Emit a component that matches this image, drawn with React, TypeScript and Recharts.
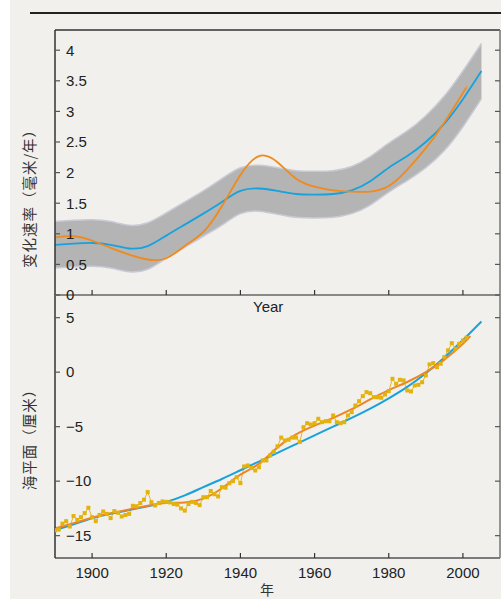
import React from 'react';
import { ComposedChart, Line, Area, XAxis, YAxis } from 'recharts';

const yearTicks = [1900, 1920, 1940, 1960, 1980, 2000];
const rateTicks = [0, 0.5, 1, 1.5, 2, 2.5, 3, 3.5, 4];
const levelTicks = [-15, -10, -5, 0, 5];

const rateYears = [1890, 1895, 1900, 1905, 1910, 1915, 1920, 1925, 1930, 1935, 1940, 1945, 1950, 1955, 1960, 1965, 1970, 1975, 1980, 1985, 1990, 1995, 2000, 2005];
const rateBlue = [0.82, 0.84, 0.85, 0.82, 0.76, 0.8, 0.97, 1.15, 1.33, 1.52, 1.7, 1.74, 1.7, 1.65, 1.64, 1.65, 1.71, 1.86, 2.08, 2.27, 2.5, 2.8, 3.2, 3.66];
const rateLow = [0.44, 0.46, 0.47, 0.44, 0.38, 0.42, 0.6, 0.78, 0.96, 1.14, 1.33, 1.37, 1.32, 1.27, 1.26, 1.27, 1.33, 1.47, 1.68, 1.87, 2.08, 2.36, 2.75, 3.21];
const rateHigh = [1.2, 1.22, 1.23, 1.2, 1.14, 1.18, 1.34, 1.52, 1.7, 1.9, 2.08, 2.12, 2.08, 2.03, 2.02, 2.03, 2.1, 2.26, 2.48, 2.68, 2.93, 3.25, 3.66, 4.11];

const orangeRateYears = [1890, 1895, 1900, 1905, 1910, 1915, 1920, 1925, 1930, 1935, 1940, 1945, 1950, 1955, 1960, 1965, 1970, 1975, 1980, 1985, 1990, 1995, 2000, 2001];
const orangeRate = [0.94, 0.96, 0.89, 0.77, 0.66, 0.58, 0.6, 0.8, 1.03, 1.45, 1.96, 2.27, 2.17, 1.9, 1.77, 1.71, 1.69, 1.69, 1.78, 2.05, 2.4, 2.82, 3.3, 3.4];

const levelBlueYears = [1890, 1895, 1900, 1905, 1910, 1915, 1920, 1925, 1930, 1935, 1940, 1945, 1950, 1955, 1960, 1965, 1970, 1975, 1980, 1985, 1990, 1995, 2000, 2005];
const levelBlue = [-14.5, -13.95, -13.4, -13.0, -12.65, -12.3, -11.9, -11.3, -10.55, -9.8, -9.0, -8.2, -7.4, -6.6, -5.8, -5.0, -4.2, -3.35, -2.4, -1.35, -0.1, 1.35, 2.95, 4.65];

const levelOrangeYears = [1890, 1895, 1900, 1905, 1910, 1915, 1920, 1925, 1930, 1935, 1940, 1945, 1950, 1955, 1960, 1965, 1970, 1975, 1980, 1985, 1990, 1995, 2000, 2002];
const levelOrange = [-14.35, -13.85, -13.35, -12.95, -12.6, -12.25, -12.0, -11.95, -11.6, -10.65, -9.4, -8.4, -6.9, -5.7, -4.9, -4.2, -3.4, -2.5, -1.65, -0.9, 0.0, 1.15, 2.6, 3.3];

const annualStart = 1890;
const annualLevel = [
  -14.5, -14.45, -13.9, -13.67, -14.16, -13.2, -13.55, -13.3, -12.93, -12.44,
  -13.3, -13.67, -13.1, -12.78, -13.0, -13.39, -12.75, -12.9, -13.24, -13.1,
  -13.0, -12.26, -12.3, -12.0, -11.7, -11.0, -11.93, -12.23, -12.0, -11.86,
  -11.9, -11.95, -12.1, -12.15, -12.5, -12.7, -12.1, -11.9, -12.0, -12.2,
  -11.47, -11.47, -10.9, -11.2, -11.4, -10.55, -10.6, -10.2, -10.0, -9.63,
  -10.18, -8.65, -8.56, -8.8, -9.02, -8.72, -8.1, -8.1, -7.64, -7.3,
  -6.8, -6.0, -6.27, -6.2, -6.0, -6.0, -6.4, -5.05, -4.68, -4.8,
  -4.68, -4.28, -4.59, -4.5, -4.5, -3.97, -4.59, -4.68, -4.59, -3.97,
  -3.67, -3.06, -2.66, -2.2, -1.83, -1.93, -2.29, -2.3, -2.35, -2.05,
  -1.74, -0.61, -1.07, -0.7, -0.76, -1.68, -1.77, -1.22, -1.16, -0.92,
  -0.3, 0.71, 0.83, 0.46, 0.77, 1.38, 2.0, 2.66, 2.15, 2.6,
  2.9, 3.16,
];

const FONT = '"Liberation Sans", Arial, Helvetica, sans-serif';
const CJK = '"Noto Sans CJK SC", "Noto Sans CJK JP", sans-serif';

const bandData = rateYears.map((year, i) => ({ year, band: [rateLow[i], rateHigh[i]], blue: rateBlue[i] }));
const orangeRateData = orangeRateYears.map((year, i) => ({ year, v: orangeRate[i] }));
const levelBlueData = levelBlueYears.map((year, i) => ({ year, v: levelBlue[i] }));
const levelOrangeData = levelOrangeYears.map((year, i) => ({ year, v: levelOrange[i] }));
const annualData = annualLevel.map((v, i) => ({ year: annualStart + i, v }));

const NoTick = () => <g />;

const BottomTick = (props: any) => {
  const { x, y, payload } = props;
  return (
    <g>
      <line x1={x} y1={y} x2={x} y2={y - 5} stroke="#333" strokeWidth={1.2} />
      <text x={x} y={y + 20} textAnchor="middle" fontSize={15} fill="#222" fontFamily={FONT}>
        {payload.value}
      </text>
    </g>
  );
};

const Square = (props: any) => {
  const { cx, cy, index } = props;
  if (cx == null || cy == null) return <g key={index} />;
  return <rect key={index} x={cx - 2} y={cy - 2} width={4} height={4} fill="#e3b20c" />;
};

const minusFmt = (v: number) => (v < 0 ? '\u2212' + Math.abs(v) : String(v));

const tickStyle = { fontSize: 15, fill: '#222', fontFamily: FONT };

export default function App() {
  return (
    <div style={{ position: 'absolute', left: 0, top: 0, width: 501, height: 599, background: '#ffffff', overflow: 'hidden' }}>
      <div style={{ position: 'absolute', left: 10, top: 0, width: 491, height: 599, background: '#f1f0ed' }} />
      <div style={{ position: 'absolute', left: 30, top: 12, width: 471, height: 1.5, background: '#222' }} />

      <div style={{ position: 'absolute', left: 0, top: 265 }}>
        <ComposedChart width={501} height={334} margin={{ top: 30, right: 1, bottom: 11, left: 55 }}>
          <XAxis xAxisId="t" type="number" domain={[1890, 2010]} allowDataOverflow ticks={yearTicks}
            orientation="top" mirror tick={NoTick} tickSize={5} interval={0}
            axisLine={{ stroke: '#888', strokeWidth: 2 }} tickLine={{ stroke: '#333', strokeWidth: 1.2 }} />
          <XAxis xAxisId="b" dataKey="year" type="number" domain={[1890, 2010]} allowDataOverflow ticks={yearTicks}
            orientation="bottom" height={30} tick={BottomTick} tickSize={0} tickMargin={0} tickLine={false} interval={0}
            axisLine={{ stroke: '#555', strokeWidth: 1.5 }} />
          <YAxis yAxisId="l" type="number" domain={[-17.05, 7.08]} allowDataOverflow ticks={levelTicks}
            orientation="left" mirror tickSize={5} tickMargin={6} tick={tickStyle} interval={0}
            tickFormatter={minusFmt}
            axisLine={{ stroke: '#333', strokeWidth: 1.5 }} tickLine={{ stroke: '#555', strokeWidth: 1.2 }} />
          <YAxis yAxisId="r" type="number" domain={[-17.05, 7.08]} allowDataOverflow ticks={levelTicks}
            orientation="right" mirror tickSize={5} tick={NoTick} interval={0}
            axisLine={{ stroke: '#777', strokeWidth: 1.5 }} tickLine={{ stroke: '#555', strokeWidth: 1.2 }} />
          <Line xAxisId="b" yAxisId="l" data={annualData} dataKey="v" type="linear"
            stroke="#e8b818" strokeWidth={1} dot={Square} isAnimationActive={false} />
          <Line xAxisId="b" yAxisId="l" data={levelBlueData} dataKey="v" type="natural"
            stroke="#17a2dc" strokeWidth={2} dot={false} isAnimationActive={false} />
          <Line xAxisId="b" yAxisId="l" data={levelOrangeData} dataKey="v" type="natural"
            stroke="#ef8426" strokeWidth={2} dot={false} isAnimationActive={false} />
        </ComposedChart>
      </div>

      <div style={{ position: 'absolute', left: 0, top: 0 }}>
        <ComposedChart width={501} height={315} margin={{ top: 30, right: 1, bottom: 20, left: 55 }}>
          <XAxis xAxisId="b" dataKey="year" type="number" domain={[1890, 2010]} allowDataOverflow ticks={yearTicks}
            orientation="bottom" mirror tick={NoTick} tickSize={5} interval={0}
            axisLine={{ stroke: '#888', strokeWidth: 2 }} tickLine={{ stroke: '#333', strokeWidth: 1.2 }} />
          <XAxis xAxisId="t" type="number" domain={[1890, 2010]} allowDataOverflow ticks={yearTicks}
            orientation="top" mirror tick={NoTick} tickSize={4} interval={0}
            axisLine={{ stroke: '#333', strokeWidth: 1.5 }} tickLine={{ stroke: '#333', strokeWidth: 1.2 }} />
          <YAxis yAxisId="l" type="number" domain={[0, 4.33]} allowDataOverflow ticks={rateTicks}
            orientation="left" mirror tickSize={5} tickMargin={6} tick={tickStyle} interval={0}
            tickFormatter={(v: number) => String(v)}
            axisLine={{ stroke: '#333', strokeWidth: 1.5 }} tickLine={{ stroke: '#555', strokeWidth: 1.2 }} />
          <YAxis yAxisId="r" type="number" domain={[0, 4.33]} allowDataOverflow ticks={rateTicks}
            orientation="right" mirror tickSize={5} tick={NoTick} interval={0}
            axisLine={{ stroke: '#777', strokeWidth: 1.5 }} tickLine={{ stroke: '#555', strokeWidth: 1.2 }} />
          <Area xAxisId="b" yAxisId="l" data={bandData} dataKey="band" type="natural"
            fill="#b4b4b4" fillOpacity={1} stroke="#c9c9d6" strokeWidth={1.5} isAnimationActive={false} />
          <Line xAxisId="b" yAxisId="l" data={bandData} dataKey="blue" type="natural"
            stroke="#17a2dc" strokeWidth={1.8} dot={false} isAnimationActive={false} />
          <Line xAxisId="b" yAxisId="l" data={orangeRateData} dataKey="v" type="natural"
            stroke="#f08a1c" strokeWidth={1.8} dot={false} isAnimationActive={false} />
        </ComposedChart>
      </div>

      <svg width={501} height={599} style={{ position: 'absolute', left: 0, top: 0, pointerEvents: 'none' }}>
        <text transform="translate(28,195) rotate(-90)" textAnchor="middle" dominantBaseline="central"
          fontSize={14.5} fill="#333" fontFamily={CJK} letterSpacing={1}>变化速率（毫米/年）</text>
        <text transform="translate(28,436) rotate(-90)" textAnchor="middle" dominantBaseline="central"
          fontSize={14.5} fill="#333" fontFamily={CJK} letterSpacing={1}>海平面（厘米）</text>
        <text x={253} y={312} fontSize={15} fill="#222" fontFamily={FONT}>Year</text>
        <text x={267} y={589} textAnchor="middle" dominantBaseline="central" fontSize={14} fill="#333" fontFamily={CJK}>年</text>
      </svg>
    </div>
  );
}
